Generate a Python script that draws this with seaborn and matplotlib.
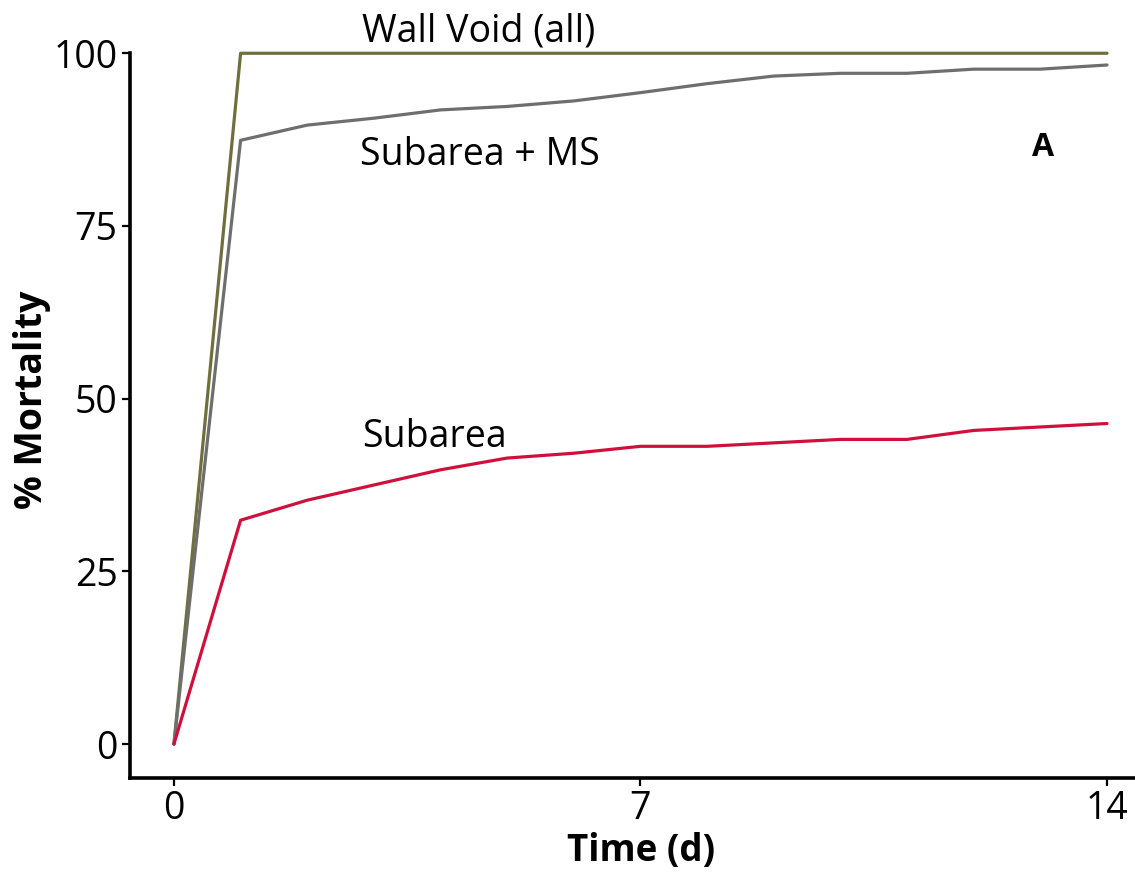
import matplotlib
matplotlib.use("Agg")
import matplotlib.pyplot as plt
import seaborn as sns
import pandas as pd

# Daily mortality (%) over the two-week observation period
days = list(range(15))
wall_void = [0, 100, 100, 100, 100, 100, 100, 100, 100, 100, 100, 100, 100, 100, 100]
subarea_ms = [0, 87.4, 89.6, 90.6, 91.8, 92.3, 93.1, 94.3, 95.6, 96.7, 97.1, 97.1, 97.7, 97.7, 98.3]
subarea = [0, 32.4, 35.3, 37.5, 39.7, 41.4, 42.1, 43.1, 43.1, 43.6, 44.1, 44.1, 45.4, 45.9, 46.4]

series_names = ["Wall Void (all)", "Subarea + MS", "Subarea"]
series_colors = ["#6f6f3e", "#6e6e6e", "#d0103c"]
x_ticks = [0, 7, 14]
y_ticks = [0, 25, 50, 75, 100]

df = pd.DataFrame({
    "day": days * 3,
    "mortality": wall_void + subarea_ms + subarea,
    "treatment": [series_names[0]] * 15 + [series_names[1]] * 15 + [series_names[2]] * 15,
})

sns.set_style("ticks")
plt.rcParams["font.family"] = ["Open Sans", "DejaVu Sans"]
plt.rcParams["text.color"] = "black"
plt.rcParams["axes.labelcolor"] = "black"

fig = plt.figure(figsize=(11.35, 8.76), dpi=100)
ax = fig.add_axes([0.1145, 0.112, 0.8855, 0.8272])

sns.lineplot(data=df, x="day", y="mortality", hue="treatment",
             hue_order=series_names, palette=series_colors,
             linewidth=2.3, legend=False, ax=ax, clip_on=False)

ax.set_xlim(-0.66, 14.42)
ax.set_ylim(-4.9, 100)
ax.set_xticks(x_ticks)
ax.set_yticks(y_ticks)
ax.tick_params(axis="both", labelsize=27, width=1.6, length=6, color="black",
               labelcolor="black", direction="out", pad=3)

for side in ["top", "right"]:
    ax.spines[side].set_visible(False)
for side in ["left", "bottom"]:
    ax.spines[side].set_linewidth(2.6)
    ax.spines[side].set_color("black")

ax.set_xlabel("Time (d)", fontsize=26.5, fontweight="bold")
ax.set_ylabel("% Mortality", fontsize=27, fontweight="bold")
ax.xaxis.set_label_coords(0.509, -0.0745)
ax.yaxis.set_label_coords(-0.0786, 0.5217)

# Direct line labels
ax.text(2.82, 103.1, "Wall Void (all)", fontsize=27, va="center", ha="left", clip_on=False)
ax.text(2.79, 85.3, "Subarea + MS", fontsize=27, va="center", ha="left")
ax.text(2.82, 44.5, "Subarea", fontsize=27, va="center", ha="left")
ax.text(13.04, 86.3, "A", fontsize=23, fontweight="bold", va="center", ha="center")

fig.savefig("out.png", dpi=100, facecolor="white")
